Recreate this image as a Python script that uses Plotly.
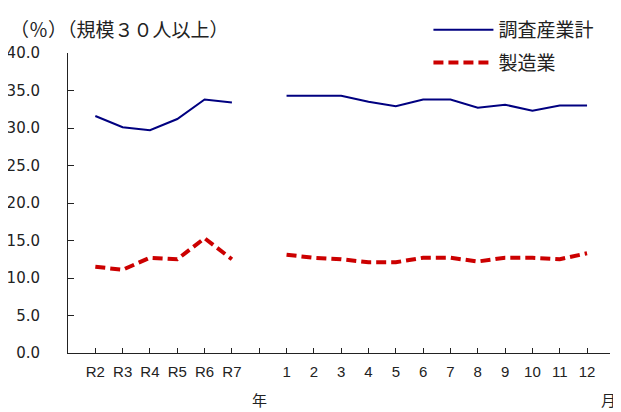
import plotly.graph_objects as go

categories = ["R2", "R3", "R4", "R5", "R6", "R7", "", "1", "2", "3", "4", "5", "6", "7", "8", "9", "10", "11", "12"]
total_values = [31.6, 30.1, 29.7, 31.2, 33.8, 33.4, None,
                34.3, 34.3, 34.3, 33.5, 32.9, 33.8, 33.8, 32.7, 33.1, 32.3, 33.0, 33.0]
mfg_values = [11.5, 11.1, 12.7, 12.5, 15.3, 12.5, None,
              13.1, 12.7, 12.5, 12.1, 12.1, 12.7, 12.7, 12.2, 12.7, 12.7, 12.5, 13.3]
y_ticks = [0, 5, 10, 15, 20, 25, 30, 35, 40]
y_tick_labels = ["0.0", "5.0", "10.0", "15.0", "20.0", "25.0", "30.0", "35.0", "40.0"]

FONT = "Noto Sans CJK JP"
xpos = list(range(len(categories)))

fig = go.Figure()
fig.add_trace(go.Scatter(x=xpos, y=total_values, mode="lines", name="調査産業計", legendgroup="a",
                         line=dict(color="#000080", width=2), connectgaps=False))
fig.add_trace(go.Scatter(x=xpos, y=mfg_values, mode="lines", name="製造業", legendgroup="b",
                         line=dict(color="#CC0000", width=4, dash="10px,5px"), connectgaps=False))

# page is offset by the 8px body margin, so figure coords = page coords - 8
fig.update_layout(
    width=621, height=412,
    margin=dict(l=60, r=19, t=45, b=67, autoexpand=False),
    paper_bgcolor="white", plot_bgcolor="white",
    font=dict(family=FONT, size=15, color="#222222"),
    showlegend=True,
    legend=dict(x=0.665, xanchor="left", y=1.14, yanchor="top", bgcolor="rgba(0,0,0,0)",
                font=dict(size=19), itemwidth=60, tracegroupgap=5),
    xaxis=dict(range=[-1, 18.84], tickmode="array", tickvals=xpos, ticktext=categories,
               ticks="inside", ticklen=5, tickcolor="#222222", showline=True,
               linecolor="#222222", linewidth=1, showgrid=False, zeroline=False,
               tickfont=dict(family="Liberation Sans", size=15), ticklabelstandoff=5,
               automargin=False),
    yaxis=dict(range=[0, 40], tickmode="array", tickvals=y_ticks, ticktext=y_tick_labels,
               ticks="inside", ticklen=6, tickcolor="#222222", showline=True,
               linecolor="#222222", linewidth=1, showgrid=False, zeroline=False,
               tickfont=dict(family="DejaVu Sans", size=15), ticklabelstandoff=24,
               automargin=False),
    annotations=[
        dict(text="（％）（規模３０人以上）", xref="paper", yref="paper", x=-0.111, y=1.08,
             xanchor="left", yanchor="middle", showarrow=False, font=dict(size=19)),
        dict(text="年", xref="x", yref="paper", x=6, y=-0.155, xanchor="center",
             yanchor="middle", showarrow=False, font=dict(size=15)),
        dict(text="月", xref="paper", yref="paper", x=0.998, y=-0.155, xanchor="center",
             yanchor="middle", showarrow=False, font=dict(size=15)),
    ],
)

fig.write_html("out.html")
